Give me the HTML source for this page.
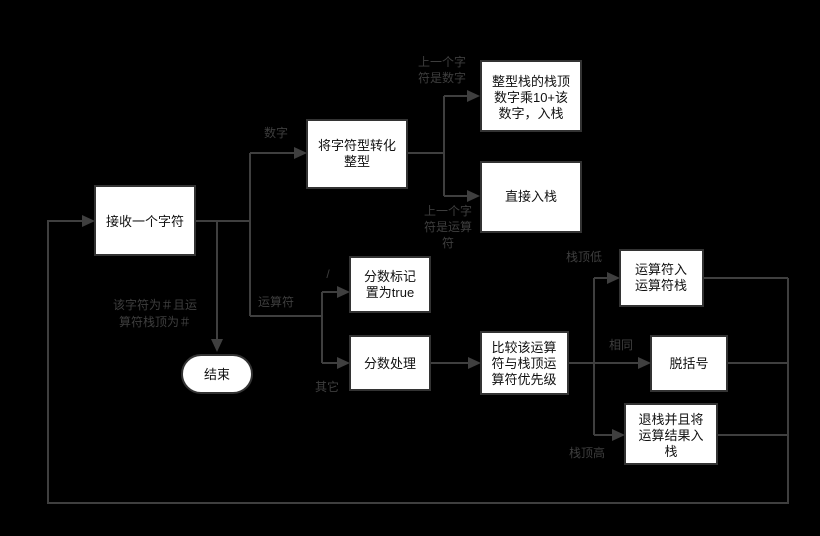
<!DOCTYPE html>
<html><head><meta charset="utf-8"><style>
html,body{margin:0;padding:0;background:#000;}
svg{display:block}
text{font-family:"Liberation Sans","Noto Sans CJK SC",sans-serif;font-size:13px;}
.b{fill:#fff;stroke:#333;stroke-width:2}
.t{fill:#111;text-anchor:middle}
.l{fill:#3e3e3e;text-anchor:middle;font-size:12px}
.ln{stroke:#3f3f3f;stroke-width:2;fill:none}
.ar{fill:#3f3f3f}
</style></head><body>
<svg width="820" height="536" viewBox="0 0 820 536" xmlns="http://www.w3.org/2000/svg">
<rect width="820" height="536" fill="#000"/>
<g class="ln">
<path d="M195 221H250M250 153V316M250 153H296M217 221V341"/>
<path d="M250 316H322M322 292V363M322 292H339M322 363H339"/>
<path d="M407 153H444M444 96V196M444 96H469M444 196H469"/>
<path d="M430 363H470"/>
<path d="M568 363H640M594 278V435M594 278H609M594 435H614"/>
<path d="M703 278H788M727 363H788M717 435H788M788 278V503H48V221H84"/>
</g>
<g class="ar">
<polygon points="307,153 294,147 294,159"/>
<polygon points="217,352 211,339 223,339"/>
<polygon points="350,292 337,286 337,298"/>
<polygon points="350,363 337,357 337,369"/>
<polygon points="480,96 467,90 467,102"/>
<polygon points="480,196 467,190 467,202"/>
<polygon points="481,363 468,357 468,369"/>
<polygon points="620,278 607,272 607,284"/>
<polygon points="651,363 638,357 638,369"/>
<polygon points="625,435 612,429 612,441"/>
<polygon points="95,221 82,215 82,227"/>
</g>
<rect class="b" x="95" y="186" width="100" height="69"/>
<text class="t" x="145" y="226">接收一个字符</text>
<rect class="b" x="307" y="120" width="100" height="68"/>
<text class="t" x="357" y="150">将字符型转化</text>
<text class="t" x="357" y="166">整型</text>
<rect class="b" x="481" y="61" width="100" height="70"/>
<text class="t" x="531" y="86">整型栈的栈顶</text>
<text class="t" x="531" y="102">数字乘10+该</text>
<text class="t" x="531" y="118">数字，入栈</text>
<rect class="b" x="481" y="162" width="100" height="70"/>
<text class="t" x="531" y="201">直接入栈</text>
<rect class="b" x="350" y="257" width="80" height="55"/>
<text class="t" x="390" y="281">分数标记</text>
<text class="t" x="390" y="297">置为true</text>
<rect class="b" x="350" y="336" width="80" height="54"/>
<text class="t" x="390" y="368">分数处理</text>
<rect class="b" x="182" y="355" width="70" height="38" rx="19"/>
<text class="t" x="217" y="379">结束</text>
<rect class="b" x="481" y="332" width="87" height="62"/>
<text class="t" x="524" y="352">比较该运算</text>
<text class="t" x="524" y="368">符与栈顶运</text>
<text class="t" x="524" y="384">算符优先级</text>
<rect class="b" x="620" y="250" width="83" height="56"/>
<text class="t" x="661" y="274">运算符入</text>
<text class="t" x="661" y="290">运算符栈</text>
<rect class="b" x="651" y="336" width="76" height="55"/>
<text class="t" x="689" y="368">脱括号</text>
<rect class="b" x="625" y="404" width="92" height="60"/>
<text class="t" x="671" y="424">退栈并且将</text>
<text class="t" x="671" y="440">运算结果入</text>
<text class="t" x="671" y="456">栈</text>
<text class="l" x="276" y="137">数字</text>
<text class="l" x="276" y="306">运算符</text>
<text class="l" x="328" y="278">/</text>
<text class="l" x="327" y="391">其它</text>
<text class="l" x="155" y="309">该字符为＃且运</text>
<text class="l" x="155" y="326">算符栈顶为＃</text>
<text class="l" x="442" y="66">上一个字</text>
<text class="l" x="442" y="82">符是数字</text>
<text class="l" x="448" y="215">上一个字</text>
<text class="l" x="448" y="231">符是运算</text>
<text class="l" x="448" y="247">符</text>
<text class="l" x="584" y="261">栈顶低</text>
<text class="l" x="621" y="349">相同</text>
<text class="l" x="587" y="457">栈顶高</text>
</svg>
</body></html>
